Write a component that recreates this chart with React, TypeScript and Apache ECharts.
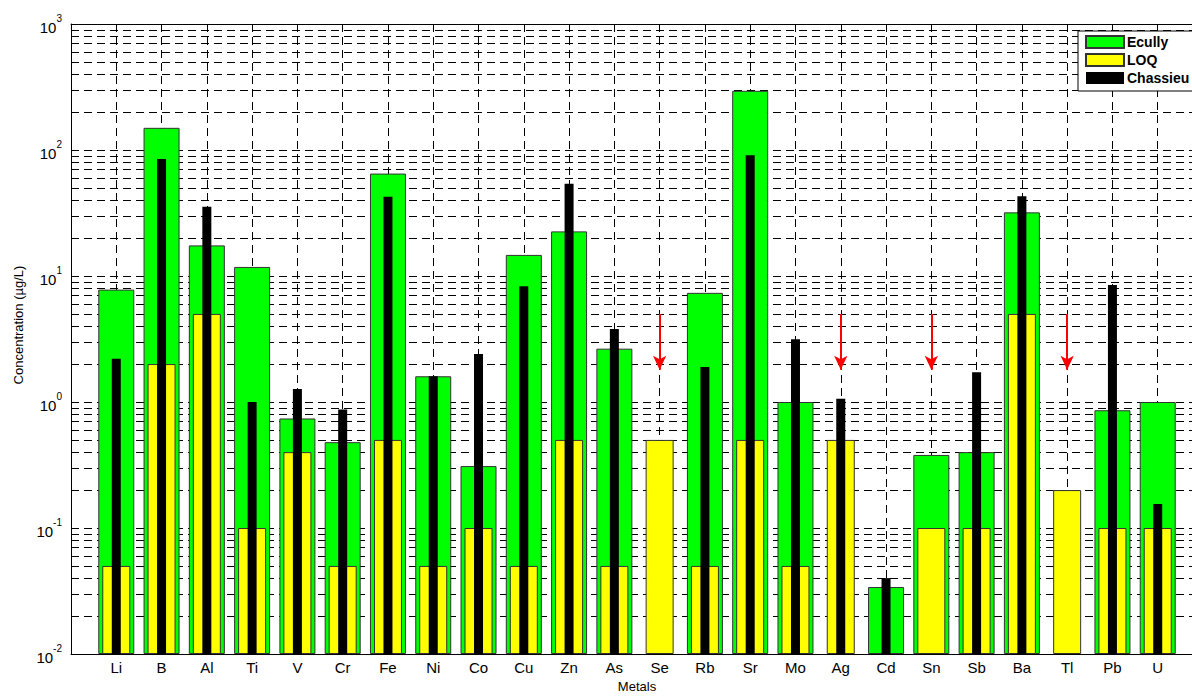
import React, { useEffect, useRef } from 'react';
import * as echarts from 'echarts';

const metals = ['Li', 'B', 'Al', 'Ti', 'V', 'Cr', 'Fe', 'Ni', 'Co', 'Cu', 'Zn', 'As', 'Se', 'Rb', 'Sr', 'Mo', 'Ag', 'Cd', 'Sn', 'Sb', 'Ba', 'Tl', 'Pb', 'U'];
const ecully = [7.8, 150, 17.5, 11.8, 0.74, 0.48, 65, 1.6, 0.31, 14.7, 22.6, 2.65, null, 7.35, 295, 1.0, null, 0.034, 0.38, 0.4, 32, null, 0.86, 1.0];
const loq = [0.05, 2, 5, 0.1, 0.4, 0.05, 0.5, 0.05, 0.1, 0.05, 0.5, 0.05, 0.5, 0.05, 0.5, 0.05, 0.5, null, 0.1, 0.1, 5, 0.2, 0.1, 0.1];
const chassieu = [2.2, 85, 35.5, 1.0, 1.27, 0.87, 42.5, 1.6, 2.4, 8.3, 54, 3.8, null, 1.9, 91, 3.15, 1.06, 0.04, null, 1.72, 43, null, 8.5, 0.155];
const arrowMetals = ['Se', 'Ag', 'Sn', 'Tl'];
const arrowFrom = 5;
const arrowTo = 1.8;
const decadeExponents = [-2, -1, 0, 1, 2];
const minorMultipliers = [2, 3, 4, 5, 6, 7, 8, 9];

const FONT = 'Arial, "Liberation Sans", Helvetica, sans-serif';
const cats = ['', ...metals, ' '];
const pad = (arr: (number | null)[]) => [null, ...arr, null];
const minorValues: number[] = [];
decadeExponents.forEach((e) => minorMultipliers.forEach((m) => minorValues.push(m * Math.pow(10, e))));

const W = 1240;
const H = 698;

export default function App() {
  const ref = useRef<HTMLDivElement>(null);
  useEffect(() => {
    if (!ref.current) return;
    const chart = echarts.init(ref.current, undefined, { renderer: 'svg' });
    const dash = [8, 5];
    const baseX: any = { type: 'category', data: cats, boundaryGap: false, gridIndex: 0 };
    const option: any = {
      animation: false,
      backgroundColor: '#fff',
      grid: { left: 71, top: 24, right: W - 1203, bottom: 36.5, containLabel: false },
      legend: {
        data: ['Ecully', 'LOQ', 'Chassieu'],
        orient: 'vertical',
        left: 1078,
        top: 31,
        itemWidth: 38,
        itemHeight: 12,
        itemGap: 4,
        padding: [4, 30, 6, 7],
        backgroundColor: '#fff',
        borderColor: '#000',
        borderWidth: 1,
        borderRadius: 0,
        icon: 'rect',
        selectedMode: false,
        textStyle: { fontWeight: 'bold', fontSize: 14, fontFamily: FONT, color: '#000', padding: [0, 0, 0, -2] },
      },
      xAxis: [
        {
          ...baseX,
          position: 'bottom',
          axisLine: { show: true, lineStyle: { color: '#000', width: 1 } },
          axisTick: { show: true, inside: true, interval: 0, length: 5, lineStyle: { color: '#000' } },
          axisLabel: { interval: 0, color: '#000', fontSize: 15, fontFamily: FONT, margin: 6 },
          splitLine: { show: true, interval: 0, lineStyle: { color: '#000', type: dash, width: 1 } },
          name: 'Metals',
          nameLocation: 'middle',
          nameGap: 26,
          nameTextStyle: { color: '#000', fontSize: 13, fontFamily: FONT },
        },
        { ...baseX, show: false },
        { ...baseX, show: false },
        {
          ...baseX,
          position: 'top',
          axisLine: { show: true, lineStyle: { color: '#000', width: 1 } },
          axisTick: { show: true, inside: true, interval: 0, length: 5, lineStyle: { color: '#000' } },
          axisLabel: { show: false },
          splitLine: { show: false },
        },
      ],
      yAxis: {
        type: 'log',
        logBase: 10,
        min: 0.01,
        max: 1000,
        startValue: 0.01,
        axisLine: { show: true, lineStyle: { color: '#000', width: 1 } },
        axisTick: { show: true, inside: true, length: 5, lineStyle: { color: '#000' } },
        axisLabel: {
          margin: 9,
          color: '#000',
          formatter: (v: number) => '{b|10}{s|' + Math.round(Math.log10(v)) + '}',
          rich: {
            b: { fontSize: 15, fontFamily: FONT, color: '#000', verticalAlign: 'bottom', lineHeight: 18 },
            s: { fontSize: 10, fontFamily: FONT, color: '#000', verticalAlign: 'top', lineHeight: 22 },
          },
        },
        splitLine: { show: true, lineStyle: { color: '#000', type: dash, width: 1 } },
      },
      graphic: [
        {
          type: 'text',
          x: 18,
          y: 325,
          rotation: Math.PI / 2,
          style: { text: 'Concentration (µg/L)', fontSize: 13, fontFamily: FONT, fill: '#000', textAlign: 'center', textVerticalAlign: 'middle' },
        },
      ],
      series: [
        {
          name: 'minorGrid',
          type: 'line',
          data: [],
          z: 1,
          markLine: {
            silent: true,
            z: 1,
            symbol: 'none',
            label: { show: false },
            lineStyle: { color: '#000', type: dash, width: 1 },
            emphasis: { disabled: true },
            data: minorValues.map((v) => ({ yAxis: v })),
          },
        },
        {
          name: 'Ecully',
          type: 'bar',
          xAxisIndex: 0,
          barWidth: 36,
          z: 2,
          data: pad(ecully),
          itemStyle: { color: '#00ff00', borderColor: '#333', borderWidth: 1 },
        },
        {
          name: 'LOQ',
          type: 'bar',
          xAxisIndex: 1,
          barWidth: 28,
          z: 3,
          data: pad(loq),
          itemStyle: { color: '#ffff00', borderColor: '#333', borderWidth: 1 },
        },
        {
          name: 'Chassieu',
          type: 'bar',
          xAxisIndex: 2,
          barWidth: 9,
          z: 4,
          data: pad(chassieu),
          itemStyle: { color: '#000', borderColor: '#000', borderWidth: 0 },
        },
        {
          name: 'arrows',
          type: 'line',
          data: [],
          z: 5,
          markLine: {
            silent: true,
            z: 6,
            symbol: ['none', 'arrow'],
            symbolSize: [10, 14],
            label: { show: false },
            lineStyle: { color: '#ff0000', width: 2, type: 'solid' },
            emphasis: { disabled: true },
            data: arrowMetals.map((m) => [{ coord: [m, arrowFrom] }, { coord: [m, arrowTo] }]),
          },
        },
      ],
    };
    chart.setOption(option);
    return () => chart.dispose();
  }, []);
  return <div ref={ref} style={{ position: 'fixed', left: 0, top: 0, width: W, height: H }} />;
}
